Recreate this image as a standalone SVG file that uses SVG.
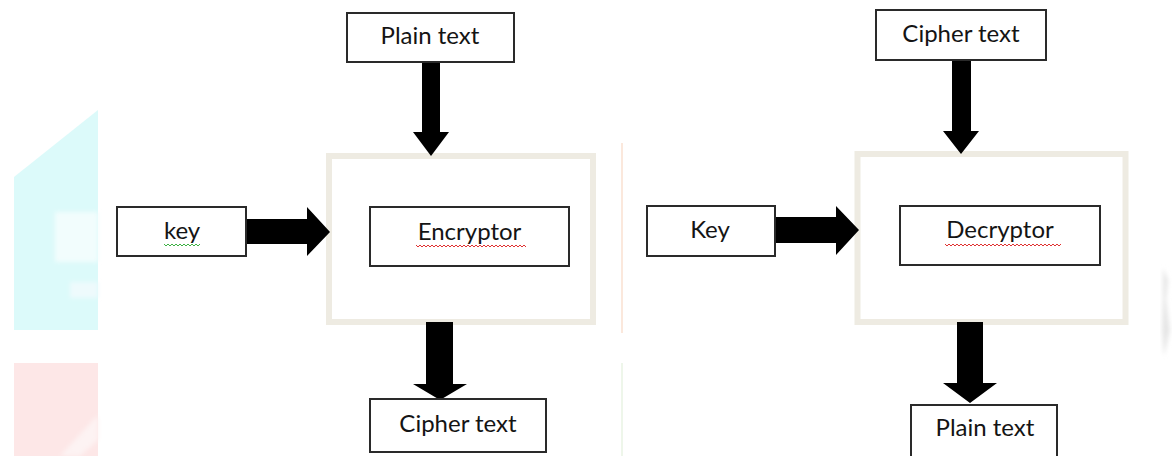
<svg xmlns="http://www.w3.org/2000/svg" width="1173" height="456" viewBox="0 0 1173 456">
  <style>
    .box { fill: #ffffff; stroke: #2a2a2a; stroke-width: 2; }
    .frame { fill: #ffffff; stroke: #eeebe2; stroke-width: 6; }
    .lbl { font-family: Lato, "Liberation Sans", sans-serif; font-size: 24px; fill: #141414; text-anchor: middle; }
    .arrow { fill: #000000; }
    .sq-red { fill: none; stroke: #e03030; stroke-width: 1; }
    .sq-green { fill: none; stroke: #3cb043; stroke-width: 1; }
  </style>
  <defs>
    <filter id="soft" x="-20%" y="-20%" width="140%" height="140%">
      <feGaussianBlur stdDeviation="2"/>
    </filter>
  </defs>
  <rect width="1173" height="456" fill="#ffffff"/>
  <!-- faint background artifacts -->
  <g id="background">
    <polygon points="14,177 98,110 98,330 14,330" fill="#dcfafa"/>
    <rect x="55" y="212" width="43" height="50" fill="#f2fdfd" filter="url(#soft)"/>
    <rect x="70" y="282" width="28" height="16" fill="#eefafc" filter="url(#soft)"/>
    <rect x="14" y="363" width="84" height="93" fill="#fde7e7"/>
    <path d="M60,456 L98,415 L98,440 L80,456 Z" fill="#fdf3f3" filter="url(#soft)"/>
    <line x1="622" y1="143" x2="622" y2="333" stroke="#fbe8dc" stroke-width="2"/>
    <line x1="622" y1="363" x2="622" y2="456" stroke="#eef6ea" stroke-width="2"/>
    <path d="M1163,268 L1168,280 L1166,300 L1170,330 L1164,356 L1162,330 L1163,300 Z" fill="#e6e6e6" filter="url(#soft)"/>
  </g>

  <g id="enc-frame"><rect class="frame" x="329" y="156" width="264" height="166"/></g>
  <g id="dec-frame"><rect class="frame" x="857.5" y="154" width="268" height="168"/></g>

  <g id="connectors">
    <polygon class="arrow" points="422,62 440,62 440,132 449,132 431,156 413,132 422,132"/>
    <polygon class="arrow" points="246,219 307,219 307,207 330,232 307,256 307,244 246,244"/>
    <polygon class="arrow" points="426,322 453,322 453,384 467,384 440,400 413,384 426,384"/>
    <polygon class="arrow" points="952,60 971,60 971,131 979,131 961,154 943,131 952,131"/>
    <polygon class="arrow" points="774,217 836,217 836,206 859,230 836,255 836,243 774,243"/>
    <polygon class="arrow" points="957,322 983,322 983,383 997,383 970,403 943,383 957,383"/>
  </g>

  <g id="plain-in">
    <rect class="box" x="347" y="13" width="167" height="49"/>
    <text class="lbl" x="430" y="44">Plain text</text>
  </g>
  <g id="key-left">
    <rect class="box" x="117" y="207" width="129" height="49"/>
    <text class="lbl" x="182" y="239">key</text>
    <path class="sq-green" d="M164,244 l2,2 l2,-2 l2,2 l2,-2 l2,2 l2,-2 l2,2 l2,-2 l2,2 l2,-2 l2,2 l2,-2 l2,2 l2,-2 l2,2 l2,-2 l2,2 l2,-2"/>
  </g>
  <g id="encryptor">
    <rect class="box" x="370" y="207" width="199" height="59"/>
    <text class="lbl" x="469.5" y="240">Encryptor</text>
    <path class="sq-red" d="M416,245 l2,2 l2,-2 l2,2 l2,-2 l2,2 l2,-2 l2,2 l2,-2 l2,2 l2,-2 l2,2 l2,-2 l2,2 l2,-2 l2,2 l2,-2 l2,2 l2,-2 l2,2 l2,-2 l2,2 l2,-2 l2,2 l2,-2 l2,2 l2,-2 l2,2 l2,-2 l2,2 l2,-2 l2,2 l2,-2 l2,2 l2,-2 l2,2 l2,-2 l2,2 l2,-2 l2,2 l2,-2 l2,2 l2,-2 l2,2 l2,-2 l2,2 l2,-2 l2,2 l2,-2 l2,2 l2,-2 l2,2 l2,-2 l2,2 l2,-2 l2,2"/>
  </g>
  <g id="cipher-out">
    <rect class="box" x="370" y="399" width="176" height="53"/>
    <text class="lbl" x="458" y="432">Cipher text</text>
  </g>

  <g id="cipher-in">
    <rect class="box" x="876" y="10" width="170" height="50"/>
    <text class="lbl" x="961" y="42">Cipher text</text>
  </g>
  <g id="key-right">
    <rect class="box" x="647" y="206" width="128" height="50"/>
    <text class="lbl" x="710" y="238">Key</text>
  </g>
  <g id="decryptor">
    <rect class="box" x="900" y="206" width="200" height="59"/>
    <text class="lbl" x="1000" y="238">Decryptor</text>
    <path class="sq-red" d="M945,244 l2,2 l2,-2 l2,2 l2,-2 l2,2 l2,-2 l2,2 l2,-2 l2,2 l2,-2 l2,2 l2,-2 l2,2 l2,-2 l2,2 l2,-2 l2,2 l2,-2 l2,2 l2,-2 l2,2 l2,-2 l2,2 l2,-2 l2,2 l2,-2 l2,2 l2,-2 l2,2 l2,-2 l2,2 l2,-2 l2,2 l2,-2 l2,2 l2,-2 l2,2 l2,-2 l2,2 l2,-2 l2,2 l2,-2 l2,2 l2,-2 l2,2 l2,-2 l2,2 l2,-2 l2,2 l2,-2 l2,2 l2,-2 l2,2 l2,-2 l2,2 l2,-2 l2,2 l2,-2"/>
  </g>
  <g id="plain-out">
    <rect class="box" x="911" y="405" width="146" height="60"/>
    <text class="lbl" x="985" y="436">Plain text</text>
  </g>
</svg>
